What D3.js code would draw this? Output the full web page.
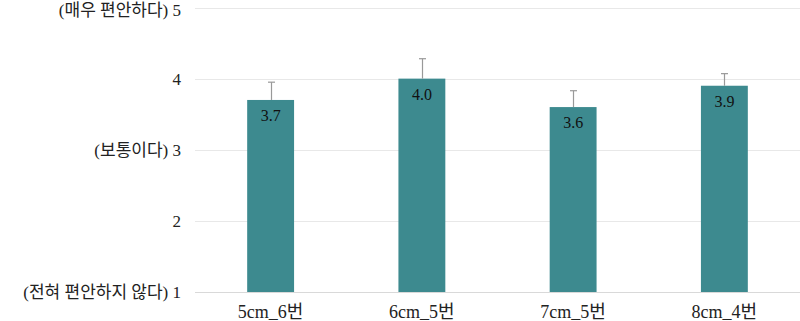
<!DOCTYPE html>
<html><head><meta charset="utf-8">
<script src="https://cdn.jsdelivr.net/npm/d3@7"></script>
<style>body{margin:0;background:#fff}svg{display:block}
text{font-family:"Liberation Serif","DejaVu Serif","Noto Sans CJK KR",serif}</style>
</head><body><svg id="c" width="800" height="321"></svg>
<script>
const categories = ["5cm_6번", "6cm_5번", "7cm_5번", "8cm_4번"];
const values = [3.7, 4.0, 3.6, 3.9];
const errorsPlus = [0.25, 0.28, 0.23, 0.17];
const yTicks = [1, 2, 3, 4, 5];
const yTickLabels = ["(전혀 편안하지 않다) 1", "2", "(보통이다) 3", "4", "(매우 편안하다) 5"];

const svg = d3.select("#c");
const x = d3.scaleBand().domain(categories).range([195, 800]).paddingInner(0.69).paddingOuter(0.345);
const y = d3.scaleLinear().domain([1, 5]).range([292, 7.5]);

svg.append("g").selectAll("line").data(yTicks).join("line")
  .attr("x1", 195).attr("x2", 800)
  .attr("y1", d => Math.round(y(d)) + 0.5).attr("y2", d => Math.round(y(d)) + 0.5)
  .attr("stroke", d => d === 1 ? "#d9d9d9" : "#e8e8e8").attr("stroke-width", 1);

svg.append("g").selectAll("text").data(yTicks).join("text")
  .attr("x", 181).attr("y", d => Math.max(y(d), 10)).attr("dy", "0.35em")
  .attr("text-anchor", "end").attr("font-size", 17).attr("fill", "#222")
  .text((d, i) => yTickLabels[i]);

svg.append("g").selectAll("rect").data(values).join("rect")
  .attr("x", (d, i) => x(categories[i])).attr("width", x.bandwidth())
  .attr("y", d => y(d)).attr("height", d => y(1) - y(d))
  .attr("fill", "#3d8a8f");

const eg = svg.append("g").attr("stroke", "#999").attr("stroke-width", 1.2);
values.forEach((v, i) => {
  const cx = Math.round(x(categories[i]) + x.bandwidth() / 2) + 0.5;
  eg.append("line").attr("x1", cx).attr("x2", cx).attr("y1", y(v)).attr("y2", y(v + errorsPlus[i]));
  eg.append("line").attr("x1", cx - 3.5).attr("x2", cx + 3.5).attr("y1", y(v + errorsPlus[i])).attr("y2", y(v + errorsPlus[i]));
});

svg.append("g").selectAll("text").data(values).join("text")
  .attr("x", (d, i) => x(categories[i]) + x.bandwidth() / 2)
  .attr("y", d => y(d) + 21)
  .attr("text-anchor", "middle").attr("font-size", 16).attr("fill", "#111")
  .text(d => d.toFixed(1));

svg.append("g").selectAll("text").data(categories).join("text")
  .attr("x", d => x(d) + x.bandwidth() / 2).attr("y", 318)
  .attr("text-anchor", "middle").attr("font-size", 18).attr("fill", "#222")
  .text(d => d);
</script></body></html>
